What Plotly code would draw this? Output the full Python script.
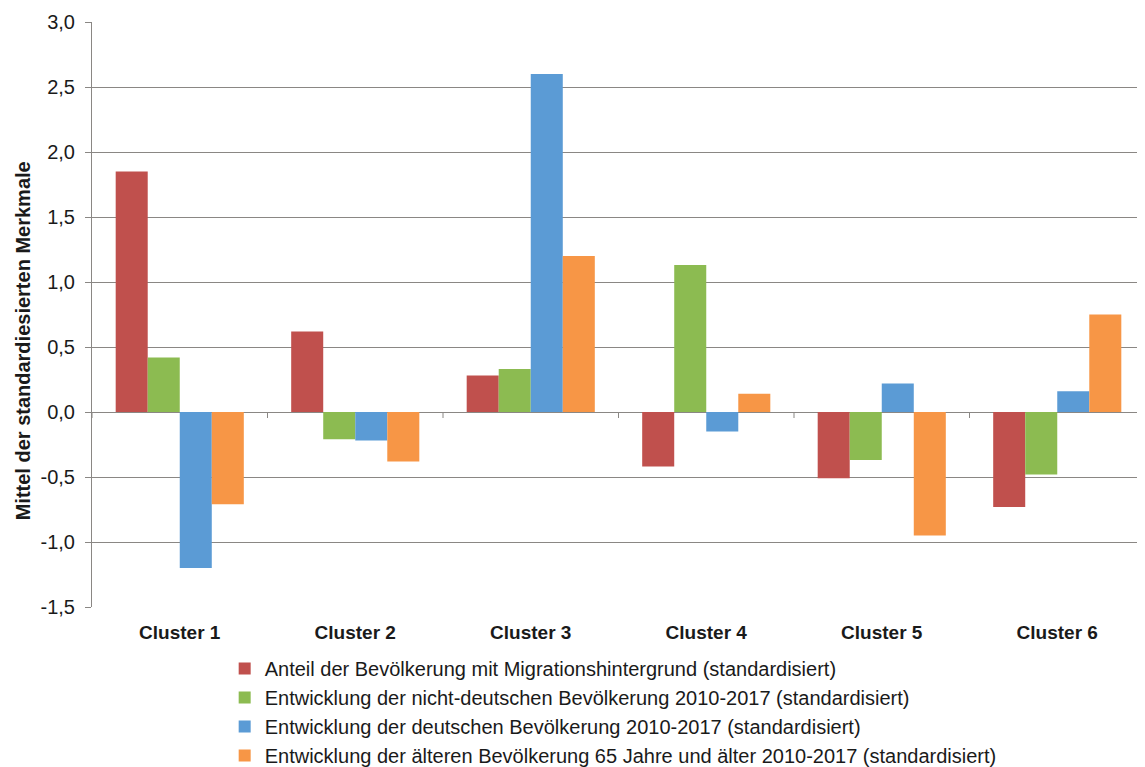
import plotly.graph_objects as go

clusters = ["Cluster 1", "Cluster 2", "Cluster 3", "Cluster 4", "Cluster 5", "Cluster 6"]

anteil_migration = [1.85, 0.62, 0.28, -0.42, -0.51, -0.73]
nicht_deutsche = [0.42, -0.21, 0.33, 1.13, -0.37, -0.48]
deutsche = [-1.20, -0.22, 2.60, -0.15, 0.22, 0.16]
aeltere = [-0.71, -0.38, 1.20, 0.14, -0.95, 0.75]

series_names = [
    "Anteil der Bevölkerung mit Migrationshintergrund (standardisiert)",
    "Entwicklung der nicht-deutschen Bevölkerung 2010-2017 (standardisiert)",
    "Entwicklung der deutschen Bevölkerung 2010-2017 (standardisiert)",
    "Entwicklung der älteren Bevölkerung 65 Jahre und älter 2010-2017 (standardisiert)",
]
colors = ["#C0504D", "#8CBB51", "#5B9BD5", "#F79646"]

y_ticks = [-1.5, -1.0, -0.5, 0.0, 0.5, 1.0, 1.5, 2.0, 2.5, 3.0]
y_tick_labels = ["-1,5", "-1,0", "-0,5", "0,0", "0,5", "1,0", "1,5", "2,0", "2,5", "3,0"]

font = "Liberation Sans, Arial, sans-serif"
grid = "#8a8784"

fig = go.Figure()

for i, (name, values, color) in enumerate(zip(series_names, [anteil_migration, nicht_deutsche, deutsche, aeltere], colors)):
    fig.add_trace(go.Bar(
        x=clusters,
        y=values,
        name=name,
        legendgroup=f"g{i}",
        marker=dict(color=color, line=dict(width=0)),
    ))

# kleine Teilstriche an der Nulllinie zwischen den Clustern
for i in range(len(clusters) + 1):
    fig.add_shape(
        type="line", xref="x", yref="y",
        x0=i - 0.5, x1=i - 0.5,
        ysizemode="pixel", yanchor=0, y0=0, y1=-6,
        line=dict(color=grid, width=1),
    )

# body hat 8px Rand -> Figur etwas kleiner
fig.update_layout(
    width=1137,
    height=759,
    margin=dict(l=84, r=0, t=14, b=160, autoexpand=False),
    paper_bgcolor="white",
    plot_bgcolor="white",
    barmode="group",
    bargap=0.27,
    bargroupgap=0,
    font=dict(family=font, size=20, color="#1a1a1a"),
    showlegend=True,
    legend=dict(
        orientation="v",
        x=0.126, xanchor="left",
        y=-0.0718, yanchor="top",
        font=dict(size=20),
        traceorder="normal",
        tracegroupgap=4,
        itemwidth=30,
        bgcolor="rgba(0,0,0,0)",
    ),
    xaxis=dict(
        range=[-0.5, 5.5],
        showgrid=False,
        showline=False,
        ticks="",
        tickfont=dict(size=19, family=font, weight="bold"),
        ticklabelstandoff=12,
    ),
    yaxis=dict(
        range=[-1.5, 3.0],
        tickvals=y_ticks,
        ticktext=y_tick_labels,
        showgrid=True,
        gridcolor=grid,
        gridwidth=1,
        zeroline=True,
        zerolinecolor=grid,
        zerolinewidth=1,
        showline=True,
        linecolor=grid,
        ticks="outside",
        ticklen=6,
        tickcolor=grid,
        tickfont=dict(size=20),
        ticklabelstandoff=6,
    ),
)

fig.add_annotation(
    text="<b>Mittel der standardiesierten Merkmale</b>",
    xref="paper", yref="paper",
    x=-0.066, y=0.455,
    xanchor="center", yanchor="middle",
    textangle=-90,
    showarrow=False,
    font=dict(size=20, family=font),
)

fig.write_html("out.html")
